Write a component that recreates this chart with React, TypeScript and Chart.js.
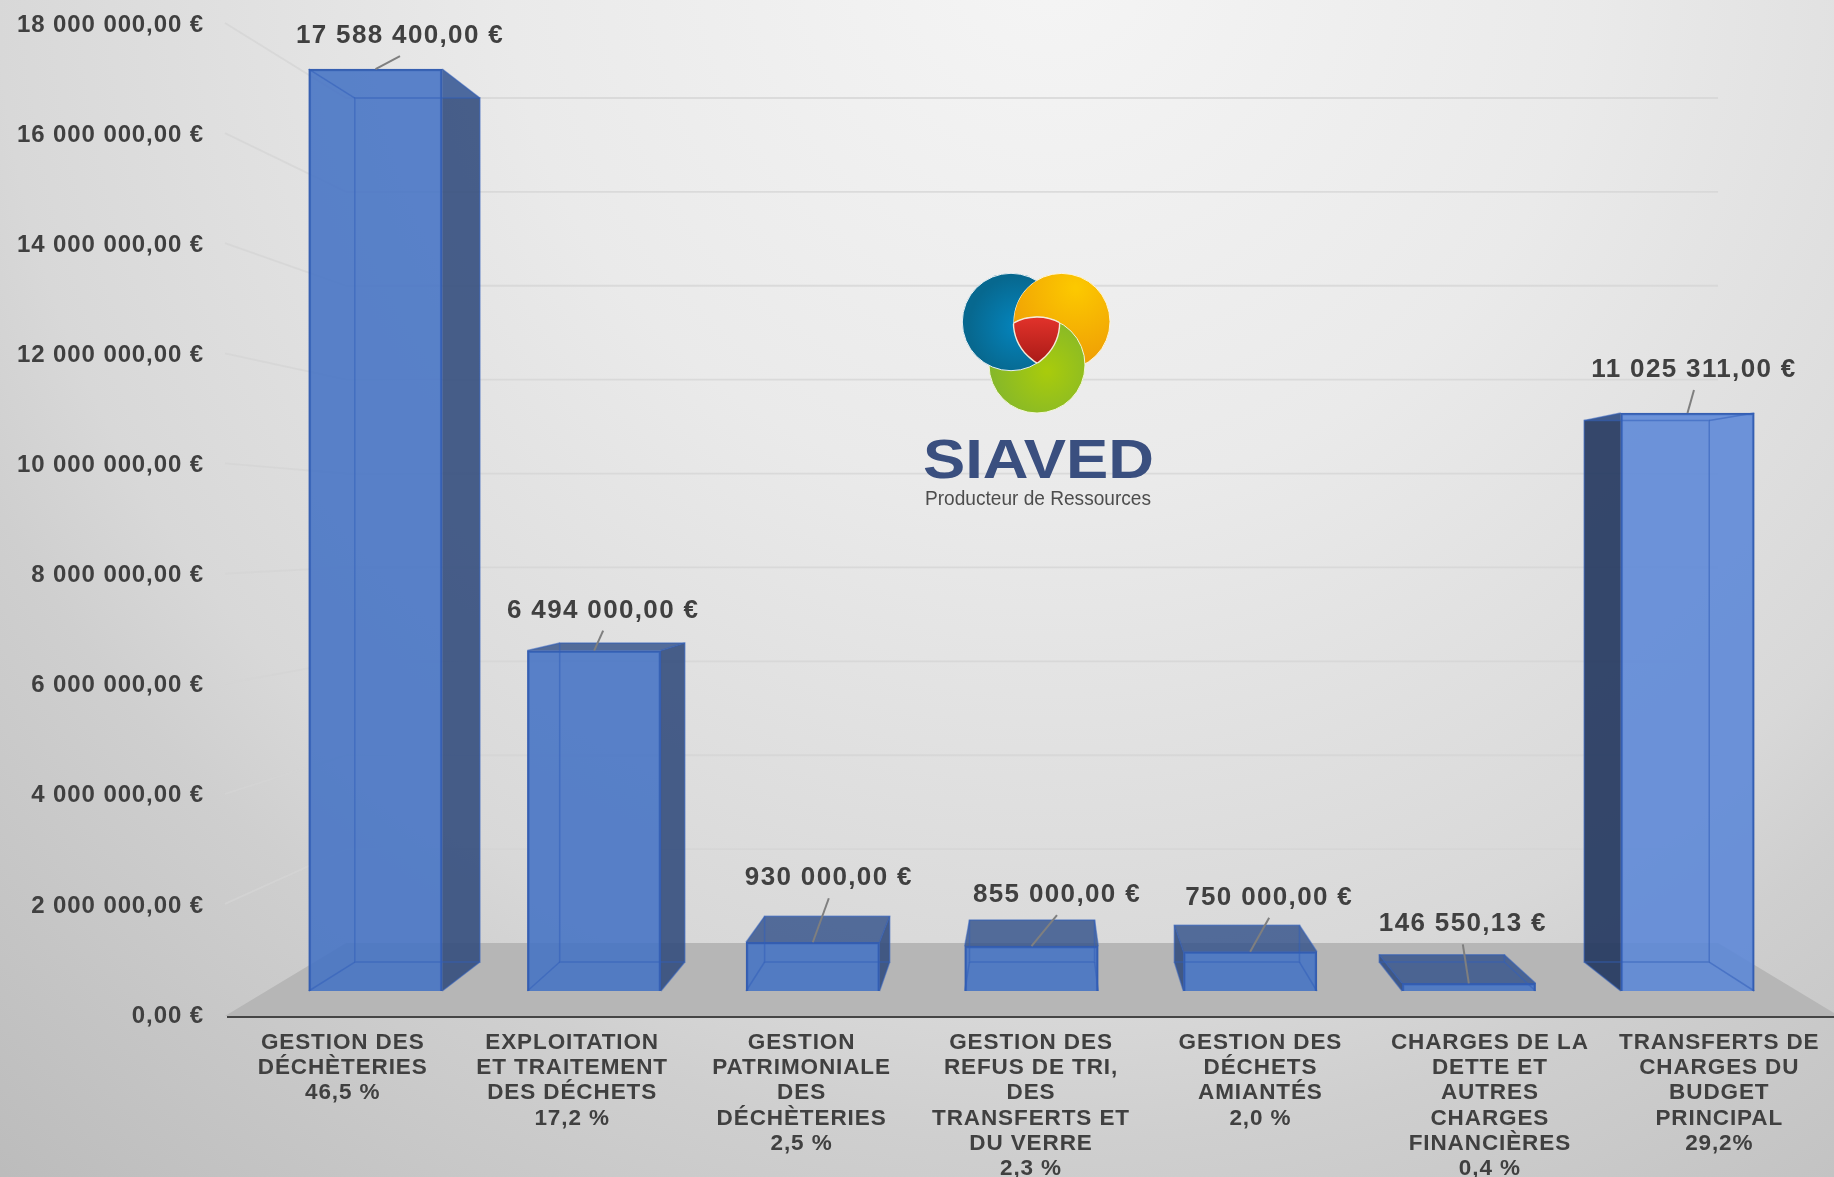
import React, { useEffect, useRef } from "react";
import { Chart, registerables } from "chart.js";

Chart.register(...registerables);

const categories: string[][] = [
  ["GESTION DES", "DÉCHÈTERIES", "46,5 %"],
  ["EXPLOITATION", "ET TRAITEMENT", "DES DÉCHETS", "17,2 %"],
  ["GESTION", "PATRIMONIALE", "DES", "DÉCHÈTERIES", "2,5 %"],
  ["GESTION DES", "REFUS DE TRI,", "DES", "TRANSFERTS ET", "DU VERRE", "2,3 %"],
  ["GESTION DES", "DÉCHETS", "AMIANTÉS", "2,0 %"],
  ["CHARGES DE LA", "DETTE ET", "AUTRES", "CHARGES", "FINANCIÈRES", "0,4 %"],
  ["TRANSFERTS DE", "CHARGES DU", "BUDGET", "PRINCIPAL", "29,2%"],
];
const amounts: number[] = [17588400, 6494000, 930000, 855000, 750000, 146550.13, 11025311];

// Layout: label offset from the top centre of each bar's front face
const labelDx: number[] = [24.5, 9, 16, 25.5, 19, -6, 6.5];
const labelDy: number[] = [-33, -40, -64, -51, -54, -59, -43];

const TEXT = "#404040";
const FONT = "'Liberation Sans', Arial, sans-serif";

function euro(v: number): string {
  const [i, d] = Math.abs(v).toFixed(2).split(".");
  return i.replace(/\B(?=(\d{3})+(?!\d))/g, " ") + "," + d + " €";
}

// perspective of the boxes (front plane -> back plane)
const BOX = { cx: 1040, cy: 531, k: 0.937 };
const back = (x: number, y: number): [number, number] => [
  BOX.cx + (x - BOX.cx) * BOX.k,
  BOX.cy + (y - BOX.cy) * BOX.k,
];
// perspective of the room (axis plane -> back wall)
const ROOM = { cx: 1032.5, kx: 0.85, cy: 520.5, ky: 0.8527 };
const wallX = (x: number) => ROOM.cx + (x - ROOM.cx) * ROOM.kx;
const wallY = (y: number) => ROOM.cy + (y - ROOM.cy) * ROOM.ky;

function poly(ctx: CanvasRenderingContext2D, pts: [number, number][], fill?: string, stroke?: string, lw = 1.8) {
  ctx.beginPath();
  pts.forEach((p, i) => (i ? ctx.lineTo(p[0], p[1]) : ctx.moveTo(p[0], p[1])));
  ctx.closePath();
  if (fill) {
    ctx.fillStyle = fill;
    ctx.fill();
  }
  if (stroke) {
    ctx.strokeStyle = stroke;
    ctx.lineWidth = lw;
    ctx.stroke();
  }
}

function disc(ctx: CanvasRenderingContext2D, x: number, y: number, r: number) {
  ctx.beginPath();
  ctx.arc(x, y, r, 0, Math.PI * 2);
}

function drawLogo(ctx: CanvasRenderingContext2D) {
  const B: [number, number, number] = [1011, 322, 48.7];
  const O: [number, number, number] = [1061.7, 321.7, 48.3];
  const G: [number, number, number] = [1037, 365, 48];
  const grad = (x: number, y: number, r: number, a: string, b: string) => {
    const g = ctx.createRadialGradient(x, y, 2, x, y, r);
    g.addColorStop(0, a);
    g.addColorStop(1, b);
    return g;
  };
  ctx.save();
  ctx.letterSpacing = "0px";
  // orange
  disc(ctx, O[0], O[1], O[2]);
  ctx.fillStyle = grad(O[0] + 14, O[1] - 34, 85, "#fcc800", "#ee9a06");
  ctx.fill();
  ctx.strokeStyle = "#fff6d8";
  ctx.lineWidth = 1;
  ctx.stroke();
  // green, above the orange
  disc(ctx, G[0], G[1], G[2]);
  ctx.fillStyle = grad(G[0] + 10, G[1] + 6, 60, "#a8cb0c", "#83b62c");
  ctx.fill();
  ctx.strokeStyle = "#f2f6d8";
  ctx.stroke();
  // blue, above the green and below the orange
  ctx.save();
  ctx.beginPath();
  ctx.rect(900, 250, 300, 200);
  ctx.arc(O[0], O[1], O[2], 0, Math.PI * 2);
  ctx.clip("evenodd");
  disc(ctx, B[0], B[1], B[2]);
  ctx.fillStyle = grad(B[0] + 8, B[1] + 4, 50, "#0484bc", "#07688f");
  ctx.fill();
  ctx.strokeStyle = "#e8f0f4";
  ctx.stroke();
  ctx.restore();
  // red, where all three overlap
  ctx.save();
  disc(ctx, B[0], B[1], B[2]);
  ctx.clip();
  disc(ctx, O[0], O[1], O[2]);
  ctx.clip();
  disc(ctx, G[0], G[1], G[2]);
  ctx.clip();
  const rg = ctx.createLinearGradient(1035, 316, 1035, 364);
  rg.addColorStop(0, "#e3332b");
  rg.addColorStop(1, "#a91a17");
  ctx.fillStyle = rg;
  ctx.fillRect(1000, 300, 80, 80);
  ctx.restore();
  // red outline
  ctx.save();
  ctx.strokeStyle = "#f4ead8";
  ctx.lineWidth = 1.4;
  [[O, G, B], [G, B, O], [B, O, G]].forEach(([c1, c2, c3]) => {
    ctx.save();
    disc(ctx, c2[0], c2[1], c2[2]);
    ctx.clip();
    disc(ctx, c3[0], c3[1], c3[2]);
    ctx.clip();
    disc(ctx, c1[0], c1[1], c1[2]);
    ctx.stroke();
    ctx.restore();
  });
  ctx.restore();

  const fitText = (t: string, font: string, color: string, left: number, baseline: number, width: number) => {
    ctx.save();
    ctx.font = font;
    ctx.fillStyle = color;
    ctx.textAlign = "left";
    ctx.textBaseline = "alphabetic";
    const m = ctx.measureText(t).width;
    ctx.translate(left, baseline);
    ctx.scale(width / m, 1);
    ctx.fillText(t, 0, 0);
    ctx.restore();
  };
  fitText("SIAVED", `bold 55px ${FONT}`, "#3a4f7f", 923, 478, 231);
  fitText("Producteur de Ressources", `21px ${FONT}`, "#4d4d4d", 925, 505, 226);
  ctx.restore();
}

const scene = {
  id: "scene",
  beforeDraw(chart: any) {
    const { ctx, width, height } = chart;
    ctx.letterSpacing = "0.9px";
    const g = ctx.createRadialGradient(1050, -50, 0, 1050, -50, 1700);
    g.addColorStop(0, "#f5f5f5");
    g.addColorStop(0.32, "#eaeaea");
    g.addColorStop(0.62, "#d8d8d8");
    g.addColorStop(0.7, "#cfcfcf");
    g.addColorStop(1, "#b8b8b8");
    ctx.save();
    ctx.fillStyle = g;
    ctx.fillRect(0, 0, width, height);
    ctx.restore();
  },
  beforeDatasetsDraw(chart: any) {
    const { ctx } = chart;
    const y = chart.scales.y;
    const axisL = 225;
    const axisR = 1839;
    const base = y.getPixelForValue(0);

    ctx.save();
    // floor
    poly(ctx, [
      [axisL, base],
      [wallX(axisL), wallY(base)],
      [wallX(axisR), wallY(base)],
      [axisR, base],
    ], "#b6b6b6");

    // side wall and back wall lines, one per y tick
    ctx.strokeStyle = "rgba(212,212,212,0.75)";
    ctx.lineWidth = 1.8;
    y.ticks.forEach((t: any) => {
      if (t.value === 0) return;
      const py = y.getPixelForValue(t.value);
      ctx.beginPath();
      ctx.moveTo(axisL, py - 2);
      ctx.lineTo(wallX(axisL), wallY(py));
      ctx.lineTo(wallX(axisR), wallY(py));
      ctx.stroke();
    });

    drawLogo(ctx);

    // inner and side faces of the boxes
    const meta = chart.getDatasetMeta(0);
    meta.data.forEach((bar: any, i: number) => {
      const { x, y: top, base: bot, width } = bar.getProps(["x", "y", "base", "width"], true);
      const l = x - width / 2;
      const r = x + width / 2;
      const blt = back(l, top), brt = back(r, top), blb = back(l, bot), brb = back(r, bot);
      const inner = "rgba(68,114,196,0.35)";
      const dark = i === 6 ? "rgba(32,50,88,0.85)" : "rgba(48,72,118,0.82)";
      poly(ctx, [blt, brt, brb, blb], inner);
      poly(ctx, [[l, bot], [r, bot], brb, blb], inner);
      poly(ctx, [[l, top], [l, bot], blb, blt], blt[0] < l ? dark : inner);
      poly(ctx, [[r, top], [r, bot], brb, brt], brt[0] > r ? dark : inner);
      poly(ctx, [[l, top], [r, top], brt, blt], blt[1] < top ? "rgba(50,78,130,0.72)" : inner);
    });
    ctx.restore();
  },
  afterDatasetsDraw(chart: any) {
    const { ctx } = chart;
    const meta = chart.getDatasetMeta(0);
    ctx.save();
    meta.data.forEach((bar: any, i: number) => {
      const { x, y: top, base: bot, width } = bar.getProps(["x", "y", "base", "width"], true);
      const l = x - width / 2;
      const r = x + width / 2;
      const blt = back(l, top), brt = back(r, top), blb = back(l, bot), brb = back(r, bot);
      const edge = "rgba(50,95,185,0.55)";
      poly(ctx, [blt, brt, brb, blb], undefined, edge, 1.5);
      ([[[l, top], blt], [[r, top], brt], [[l, bot], blb], [[r, bot], brb]] as [number, number][][]).forEach(([a, b]) => {
        ctx.beginPath();
        ctx.moveTo(a[0], a[1]);
        ctx.lineTo(b[0], b[1]);
        ctx.strokeStyle = edge;
        ctx.lineWidth = 1.5;
        ctx.stroke();
      });
      // leader line and value label
      const lx = x + labelDx[i];
      const ly = top + labelDy[i];
      ctx.beginPath();
      ctx.moveTo(x, top);
      ctx.lineTo(lx, ly + 20);
      ctx.strokeStyle = "#7f7f7f";
      ctx.lineWidth = 2;
      ctx.stroke();
      ctx.font = `bold 26px ${FONT}`;
      ctx.letterSpacing = "1.35px";
      ctx.fillStyle = TEXT;
      ctx.textAlign = "center";
      ctx.textBaseline = "middle";
      ctx.fillText(euro(amounts[i]), lx, ly);
    });
    ctx.restore();
  },
};

export default function App() {
  const ref = useRef<HTMLCanvasElement>(null);
  useEffect(() => {
    const chart = new Chart(ref.current!, {
      type: "bar",
      data: {
        labels: categories as any,
        datasets: [
          {
            label: "Montant",
            data: amounts.map((v, i) => ({ x: i, y: v })) as any,
            xAxisID: "xBars",
            yAxisID: "yBars",
            barThickness: 133.5,
            backgroundColor: amounts.map((_, i) => (i === 6 ? "rgba(92,136,218,0.8)" : "rgba(68,114,196,0.8)")),
            borderColor: "rgba(47,90,175,0.95)",
            borderWidth: 2,
          },
        ],
      },
      options: {
        responsive: false,
        animation: false,
        layout: { padding: { top: 25, left: 0, right: 0, bottom: 0 } },
        plugins: { legend: { display: false }, tooltip: { enabled: false } },
        scales: {
          x: {
            type: "category",
            position: "bottom",
            offset: true,
            grid: { display: false, drawTicks: false },
            border: { display: true, color: "#454545", width: 3 },
            ticks: {
              autoSkip: false,
              maxRotation: 0,
              minRotation: 0,
              padding: 14,
              color: TEXT,
              font: { family: FONT, size: 22.5, weight: "bold", lineHeight: 1.125 },
            },
            afterFit(s: any) {
              s.height = 161;
            },
          },
          y: {
            type: "linear",
            position: "left",
            min: 0,
            max: 18000000,
            grid: { display: false, drawTicks: false },
            border: { display: false },
            ticks: {
              stepSize: 2000000,
              padding: 24,
              color: TEXT,
              font: { family: FONT, size: 24, weight: "bold" },
              callback: (v: any) => euro(Number(v)),
            },
            afterFit(s: any) {
              s.width = 228;
              s.paddingTop = 0;
              s.paddingBottom = 0;
            },
          },
          // the boxes stand on a plane nearer the back wall than the axes
          xBars: { type: "linear", axis: "x", display: false, offset: false, min: -0.6745, max: 6.67 },
          yBars: { type: "linear", axis: "y", display: false, min: -477000, max: 18428000 },
        } as any,
      },
      plugins: [scene],
    } as any);
    return () => chart.destroy();
  }, []);
  return (
    <div style={{ position: "fixed", left: 0, top: 0, width: 1834, height: 1177, overflow: "hidden" }}>
      <canvas ref={ref} width={1834} height={1177} style={{ display: "block" }} />
    </div>
  );
}
